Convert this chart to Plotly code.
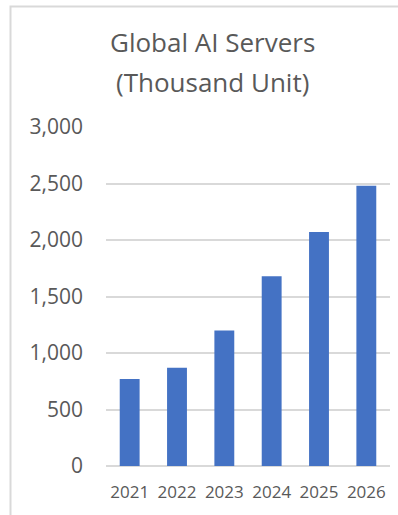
import plotly.graph_objects as go

years = ["2021", "2022", "2023", "2024", "2025", "2026"]
servers = [770, 870, 1200, 1680, 2070, 2480]
y_ticks = [0, 500, 1000, 1500, 2000, 2500, 3000]
y_tick_text = ["0", "500", "1,000", "1,500", "2,000", "2,500", "3,000"]
title_lines = ["Global AI Servers", "(Thousand Unit)"]

W, H = 398, 515
L, R, T, B = 106, 8, 127, 49
pw, ph = W - L - R, H - T - B

def px(x):
    return (x - L) / pw

def py(y):
    return (H - B - y) / ph

fig = go.Figure(go.Bar(x=years, y=servers, marker=dict(color="#4472C4", line=dict(width=0)),
                       width=0.42))

FONT = "Open Sans"
fig.update_layout(
    width=W, height=H,
    margin=dict(l=L, r=R, t=T, b=B),
    paper_bgcolor="white", plot_bgcolor="white",
    showlegend=False,
    font=dict(family=FONT, color="#595959"),
    xaxis=dict(showgrid=False, showline=False, ticks="", zeroline=False,
               tickfont=dict(size=17, color="#595959"), ticklabelstandoff=14),
    yaxis=dict(range=[0, 3000], tickvals=y_ticks, ticktext=y_tick_text,
               showgrid=True, gridcolor="#D9D9D9", gridwidth=2,
               zeroline=True, zerolinecolor="#D9D9D9", zerolinewidth=2,
               showline=False, ticks="",
               tickfont=dict(size=21, color="#595959"), ticklabelstandoff=22),
    bargap=0.58,
)

fig.add_shape(type="rect", xref="paper", yref="paper",
              x0=px(10.5), x1=px(420), y0=py(6.5), y1=py(540),
              line=dict(color="#D9D9D9", width=2), fillcolor="rgba(0,0,0,0)", layer="below")

for txt, yc in zip(title_lines, [42, 82]):
    fig.add_annotation(text=txt, xref="paper", yref="paper", x=px(212), y=py(yc),
                       xanchor="center", yanchor="middle", showarrow=False,
                       font=dict(family=FONT, size=26, color="#595959"))

fig.write_html("out.html", config={"displayModeBar": False},
               post_script="document.body.style.margin='0';document.body.style.overflow='hidden';")
